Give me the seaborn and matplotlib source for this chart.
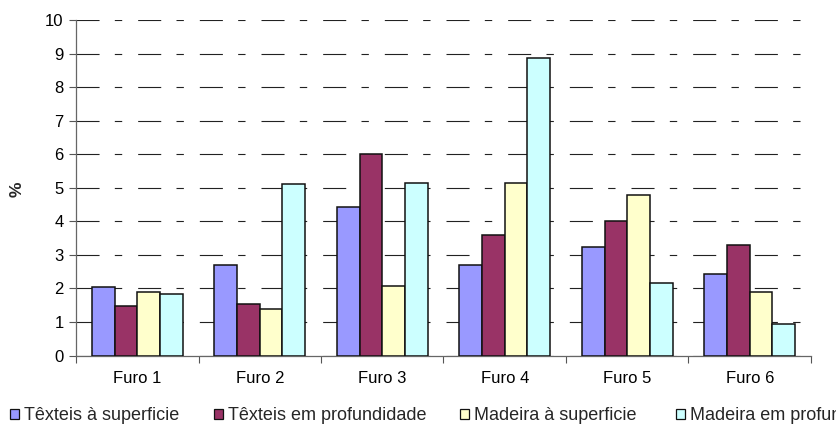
import matplotlib
matplotlib.use("Agg")
import matplotlib.pyplot as plt
import seaborn as sns
import pandas as pd
import numpy as np
from matplotlib.ticker import FixedLocator
from matplotlib.patches import Patch

categories = ["Furo 1", "Furo 2", "Furo 3", "Furo 4", "Furo 5", "Furo 6"]
series = ["Têxteis à superficie", "Têxteis em profundidade",
          "Madeira à superficie", "Madeira em profundidade"]
texteis_sup = [2.04, 2.70, 4.42, 2.69, 3.24, 2.43]
texteis_prof = [1.47, 1.53, 6.00, 3.60, 4.00, 3.28]
madeira_sup = [1.90, 1.39, 2.06, 5.14, 4.77, 1.89]
madeira_prof = [1.82, 5.10, 5.14, 8.88, 2.16, 0.95]
colors = ["#9999FF", "#993366", "#FFFFCC", "#CCFFFF"]
yticks = list(range(0, 11))

rows = []
for s, vals in zip(series, [texteis_sup, texteis_prof, madeira_sup, madeira_prof]):
    for c, v in zip(categories, vals):
        rows.append({"Furo": c, "Série": s, "Valor": v})
df = pd.DataFrame(rows)

sns.set_theme(style="white")
plt.rcParams["font.family"] = ["Liberation Sans", "DejaVu Sans"]
plt.rcParams["lines.scale_dashes"] = False

fig = plt.figure(figsize=(8.37, 4.24), dpi=100)
ax = fig.add_axes([76/837, 1-355.5/424, (811-76)/837, (355.5-20)/424])

sns.barplot(data=df, x="Furo", y="Valor", hue="Série", order=categories,
            hue_order=series, palette=colors, saturation=1, edgecolor="#111111",
            linewidth=1.1, width=0.74, ax=ax, legend=False, zorder=3)

ax.set_xlim(-0.5, 5.5)
ax.set_ylim(0, 10)
ax.set_yticks(yticks)
ax.set_yticklabels([str(t) for t in yticks], fontsize=12, color="black")
ax.tick_params(axis="y", length=5, width=0.8, color="#555555", direction="out", pad=4, left=True)
ax.tick_params(axis="x", which="major", length=0, labelsize=12, labelcolor="black", pad=11)
ax.xaxis.set_minor_locator(FixedLocator(np.arange(-0.5, 6.0, 1.0)))
ax.tick_params(axis="x", which="minor", length=5, width=0.8, color="#555555", direction="out", bottom=True)

ax.yaxis.grid(True, color="#222222", linewidth=0.8, linestyle=(0, (16.6, 11, 5.3, 11.5)), zorder=0)
ax.xaxis.grid(False)
ax.set_axisbelow(True)

for sp in ["top", "right"]:
    ax.spines[sp].set_visible(False)
for sp in ["left", "bottom"]:
    ax.spines[sp].set_color("#666666")
    ax.spines[sp].set_linewidth(0.9)

ax.set_xlabel("")
ax.set_ylabel("%", fontsize=12.5, fontweight="bold")
ax.yaxis.set_label_coords((25-76)/735, (355.5-189)/335.5)

legend_x = [10, 214, 460, 676]
for c, s, lx in zip(colors, series, legend_x):
    h = Patch(facecolor=c, edgecolor="#111111", linewidth=0.9)
    fig.legend([h], [s], loc="center left", bbox_to_anchor=(lx/837, 1-416/424),
               frameon=False, handlelength=0.5, handleheight=0.5,
               handletextpad=0.3, borderpad=0, borderaxespad=0, fontsize=13)

fig.savefig("out.png", dpi=100)
